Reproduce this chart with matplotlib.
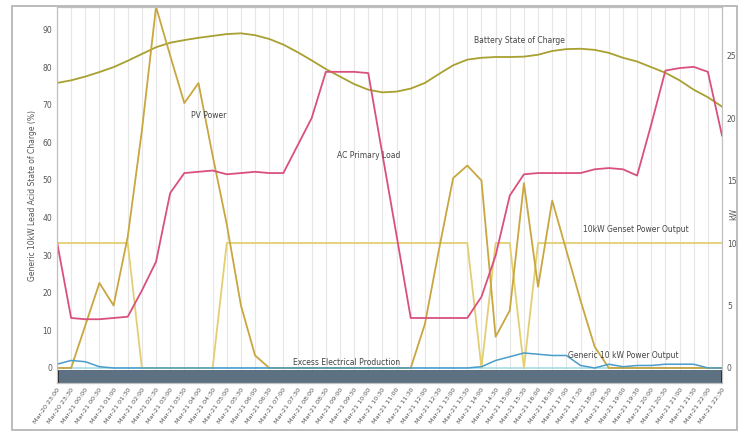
import numpy as np
import pandas as pd
import matplotlib
matplotlib.use("Agg")
import matplotlib.pyplot as plt
from matplotlib.patches import Rectangle

# time axis, 30 min steps
times = pd.date_range("2021-03-20 23:00", periods=48, freq="30min")
tick_labels = list(times.strftime("%b-%d %H:%M"))

# left axis (%)
battery_soc = [75.8, 76.5, 77.5, 78.7, 80.0, 81.7, 83.5, 85.3, 86.5, 87.2,
               87.8, 88.3, 88.8, 89.0, 88.5, 87.5, 86.0, 84.0, 81.8, 79.5,
               77.5, 75.5, 74.0, 73.3, 73.5, 74.3, 75.8, 78.2, 80.5, 82.0,
               82.5, 82.7, 82.7, 82.8, 83.3, 84.3, 84.8, 84.9, 84.6, 83.8,
               82.5, 81.5, 80.0, 78.5, 76.5, 74.0, 72.0, 69.5]

# right axis (kW)
pv_power = [0.0, 0.0, 3.4, 6.8, 5.0, 10.5, 19.0, 28.9, 25.0, 21.2,
            22.8, 17.0, 11.5, 5.0, 1.0, 0.0, 0.0, 0.0, 0.0, 0.0,
            0.0, 0.0, 0.0, 0.0, 0.0, 0.0, 3.5, 9.5, 15.2, 16.2,
            15.0, 2.5, 4.6, 14.8, 6.5, 13.4, 9.4, 5.4, 1.7, 0.0,
            0.0, 0.0, 0.0, 0.0, 0.0, 0.0, 0.0, 0.0]
ac_load = [10.1, 4.0, 3.9, 3.9, 4.0, 4.1, 6.2, 8.5, 14.0, 15.6,
           15.7, 15.8, 15.5, 15.6, 15.7, 15.6, 15.6, 17.8, 20.0, 23.7,
           23.7, 23.7, 23.6, 17.1, 10.6, 4.0, 4.0, 4.0, 4.0, 4.0,
           5.7, 9.0, 13.8, 15.5, 15.6, 15.6, 15.6, 15.6, 15.9, 16.0,
           15.9, 15.4, 19.5, 23.8, 24.0, 24.1, 23.7, 18.6]
genset = [10, 10, 10, 10, 10, 10, 0, 0, 0, 0,
          0, 0, 10, 10, 10, 10, 10, 10, 10, 10,
          10, 10, 10, 10, 10, 10, 10, 10, 10, 10,
          0, 10, 10, 0, 10, 10, 10, 10, 10, 10,
          10, 10, 10, 10, 10, 10, 10, 10]
generic_10kw = [0.3, 0.6, 0.5, 0.1, 0, 0, 0, 0, 0, 0,
                0, 0, 0, 0, 0, 0, 0, 0, 0, 0,
                0, 0, 0, 0, 0, 0, 0, 0, 0, 0,
                0.1, 0.6, 0.9, 1.2, 1.1, 1.0, 1.0, 0.2, 0.0, 0.3,
                0.1, 0.2, 0.2, 0.3, 0.3, 0.3, 0.0, 0.0]
excess = [0.0] * 48

x = np.arange(len(tick_labels))

fig = plt.figure(figsize=(7.4, 4.32), dpi=100)
ax = fig.add_axes([0.077, 0.1134, 0.8987, 0.8704])
ax2 = ax.twinx()

# outer frame
fig.patches.append(Rectangle((0.016, 0.005), 0.98, 0.98, transform=fig.transFigure,
                             fill=False, edgecolor="#b0b0b0", lw=1.2))

ax.set_xlim(0, len(x) - 1)
ax.set_ylim(-4, 96)
ax2.set_ylim(-4 / 3.323, 96 / 3.323)

ax.set_xticks(x)
ax.set_xticklabels(tick_labels, rotation=55, ha="right", rotation_mode="anchor",
                   fontsize=4.6, color="#555555")
ax.grid(axis="x", color="#e6e6e6", lw=0.8)
ax.set_axisbelow(True)
ax.set_yticks(range(0, 100, 10))
ax.tick_params(axis="y", labelsize=5.5, colors="#555555", length=0)
ax.tick_params(axis="x", length=0, pad=3)
ax2.set_yticks(range(0, 30, 5))
ax2.tick_params(axis="y", labelsize=5.5, colors="#555555", length=0)

for a in (ax, ax2):
    for s in a.spines.values():
        s.set_color("#c0c0c0")
        s.set_linewidth(0.8)

ax.set_ylabel("Generic 10kW Lead Acid State of Charge (%)", fontsize=5.5, color="#555555")
ax2.set_ylabel("kW", fontsize=5.5, color="#555555", rotation=90, va="center")
ax2.yaxis.set_label_coords(1.017, 0.45)

# dark band under zero
ax.axhspan(-4, -0.6, facecolor="#5e7183", edgecolor="none", zorder=1)
ax.vlines([0, len(x) - 1], -4, -0.6, colors="#1a1a1a", lw=2, zorder=2)

ax.plot(x, battery_soc, color="#a8a030", lw=1.3, zorder=3)
ax2.plot(x, excess, color="#a8dbe8", lw=1.2)
ax2.plot(x, genset, color="#e3cf72", lw=1.3)
ax2.plot(x, pv_power, color="#c9a640", lw=1.3)
ax2.plot(x, ac_load, color="#d9507e", lw=1.3)
ax2.plot(x, generic_10kw, color="#4a9ccb", lw=1.1)

fs = 5.5
ax.text(29.5, 86.5, "Battery State of Charge", fontsize=fs, color="#444444")
ax2.text(9.5, 20.0, "PV Power", fontsize=fs, color="#444444")
ax2.text(19.8, 16.8, "AC Primary Load", fontsize=fs, color="#444444")
ax2.text(37.2, 10.9, "10kW Genset Power Output", fontsize=fs, color="#444444")
ax2.text(16.7, 0.25, "Excess Electrical Production", fontsize=fs, color="#444444")
ax2.text(36.1, 0.8, "Generic 10 kW Power Output", fontsize=fs, color="#444444")

fig.savefig("out.png", dpi=100)
